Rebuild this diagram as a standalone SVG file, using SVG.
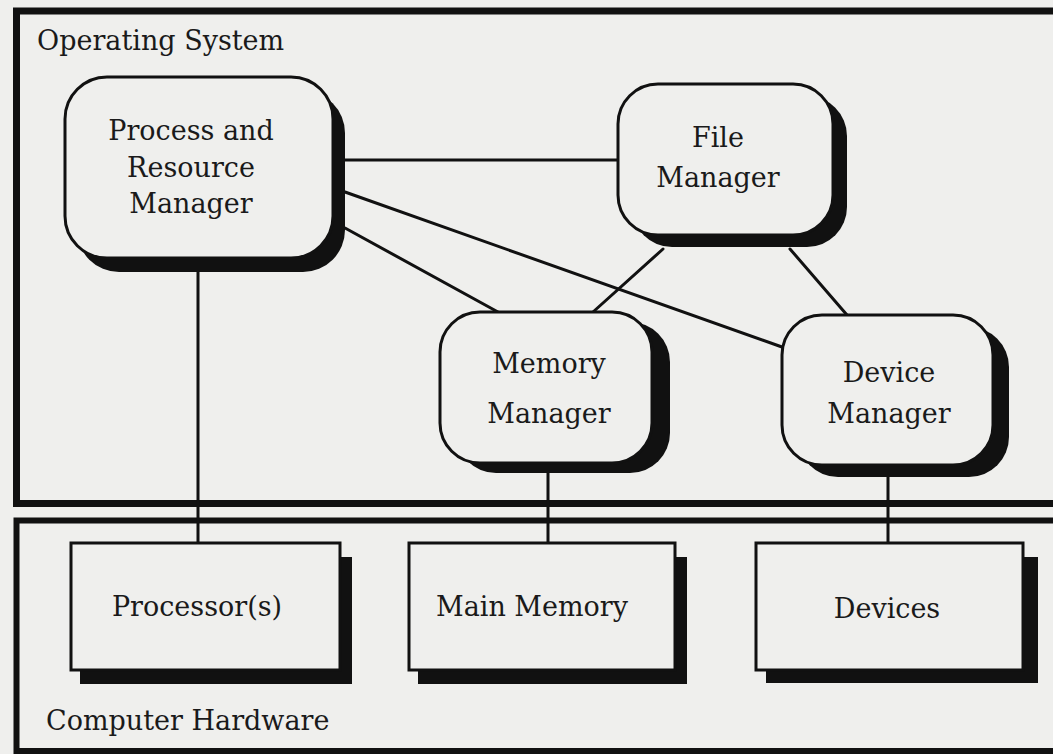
<svg xmlns="http://www.w3.org/2000/svg" width="1053" height="754" viewBox="0 0 1053 754">
<style>
.bg{fill:#efefed}
.frame{fill:none;stroke:#111;stroke-width:7}
.shadow{fill:#111}
.box{fill:#efefed;stroke:#111;stroke-width:3}
.conn line{stroke:#111;stroke-width:3;stroke-linecap:round}
text{font-family:"DejaVu Serif","Liberation Serif",serif;font-size:27px;fill:#1a1a1a}
.c{text-anchor:middle}
</style>
<rect class="bg" x="0" y="0" width="1053" height="754"/>
<g id="operating-system">
<rect class="frame" x="16.5" y="11" width="1060" height="492.5"/>
<text x="37" y="50">Operating System</text>
</g>
<g id="computer-hardware">
<rect class="frame" x="16.5" y="520.5" width="1060" height="230.5" style="stroke-width:6"/>
<text x="46" y="730">Computer Hardware</text>
</g>
<g class="conn" id="connectors">
<line x1="345" y1="160" x2="618" y2="160"/>
<line x1="345" y1="192" x2="782" y2="347"/>
<line x1="345" y1="228" x2="498" y2="312"/>
<line x1="663" y1="249" x2="593" y2="312"/>
<line x1="790" y1="249" x2="847" y2="315"/>
<line x1="198" y1="272" x2="198" y2="543"/>
<line x1="548" y1="473" x2="548" y2="543"/>
<line x1="888" y1="477" x2="888" y2="543"/>
</g>
<g id="process-resource-manager">
<rect class="shadow" x="77" y="91" width="268" height="181" rx="42"/>
<rect class="box" x="65" y="77" width="268" height="181" rx="42"/>
<text class="c" x="191" y="140">Process and</text>
<text class="c" x="191" y="177">Resource</text>
<text class="c" x="191" y="213">Manager</text>
</g>
<g id="file-manager">
<rect class="shadow" x="632" y="96" width="215" height="151" rx="40"/>
<rect class="box" x="618" y="84" width="215" height="151" rx="40"/>
<text class="c" x="718" y="147">File</text>
<text class="c" x="718" y="187">Manager</text>
</g>
<g id="memory-manager">
<rect class="shadow" x="456" y="322" width="214" height="151" rx="40"/>
<rect class="box" x="440" y="312" width="212" height="151" rx="40"/>
<text class="c" x="549" y="373">Memory</text>
<text class="c" x="549" y="423">Manager</text>
</g>
<g id="device-manager">
<rect class="shadow" x="798" y="327" width="211" height="150" rx="40"/>
<rect class="box" x="782" y="315" width="211" height="150" rx="40"/>
<text class="c" x="889" y="382">Device</text>
<text class="c" x="889" y="423">Manager</text>
</g>
<g id="processors">
<rect class="shadow" x="80" y="557" width="272" height="127"/>
<rect class="box" x="71" y="543" width="269" height="127"/>
<text class="c" x="197" y="616">Processor(s)</text>
</g>
<g id="main-memory">
<rect class="shadow" x="418" y="557" width="269" height="127"/>
<rect class="box" x="409" y="543" width="266" height="127"/>
<text class="c" x="532" y="616">Main Memory</text>
</g>
<g id="devices">
<rect class="shadow" x="766" y="557" width="272" height="126"/>
<rect class="box" x="756" y="543" width="267" height="127"/>
<text class="c" x="887" y="618">Devices</text>
</g>
</svg>
